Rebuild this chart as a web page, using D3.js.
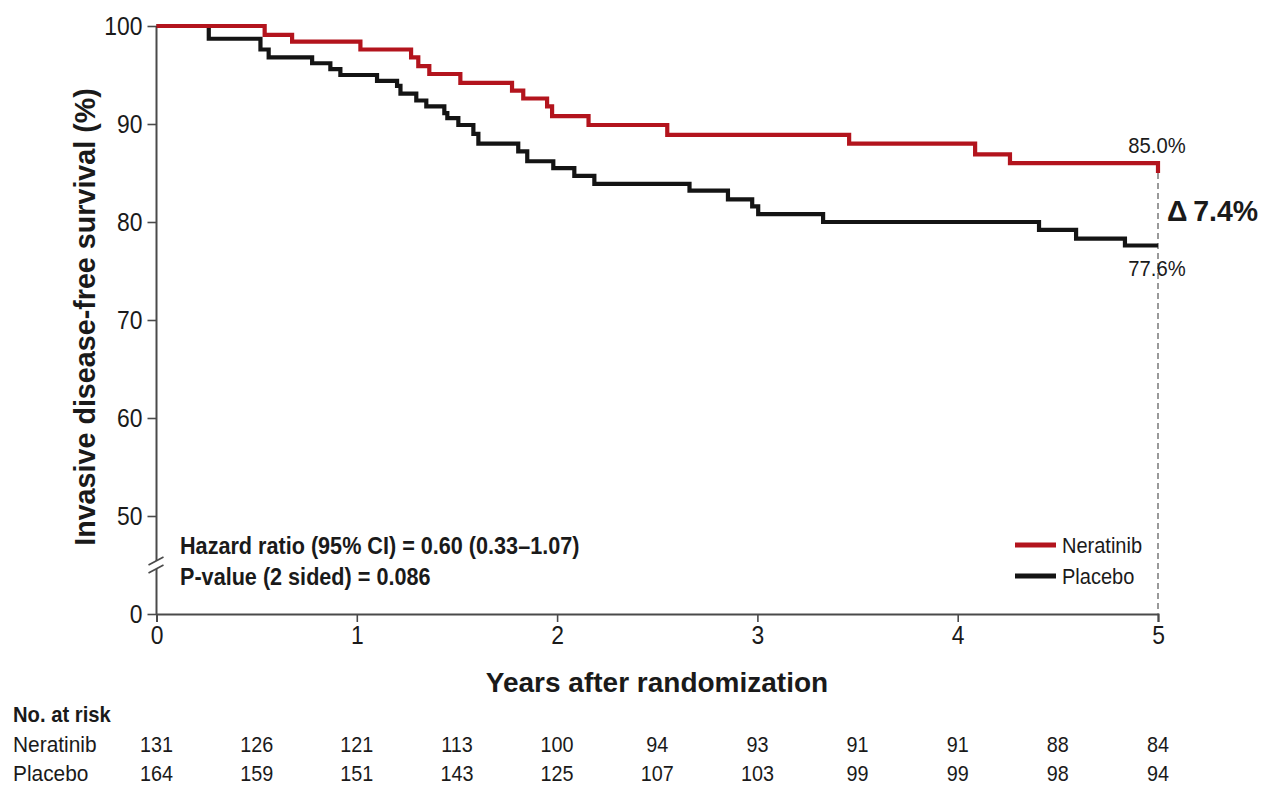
<!DOCTYPE html>
<html>
<head>
<meta charset="utf-8">
<script src="https://cdn.jsdelivr.net/npm/d3@7"></script>
<style>
  html, body { margin: 0; padding: 0; background: #fff; }
  svg { display: block; }
  text { font-family: "Liberation Sans", Arial, sans-serif; fill: #1a1a1a; }
</style>
</head>
<body>
<svg id="chart" width="1261" height="785"></svg>
<script>
// Kaplan–Meier invasive disease-free survival, by arm (years, %)
const neratinibTimes = [0, 0.540, 0.677, 1.018, 1.271, 1.307, 1.362, 1.517, 1.775, 1.831, 1.950, 1.975, 2.157, 2.550, 3.458, 4.087, 4.261, 5.0];
const neratinibSurv  = [100, 99.1, 98.4, 97.6, 96.8, 95.9, 95.1, 94.2, 93.4, 92.6, 91.8, 90.8, 89.9, 88.9, 88.0, 86.9, 86.0, 85.0];

const placeboTimes = [0, 0.261, 0.519, 0.560, 0.777, 0.868, 0.918, 1.101, 1.201, 1.218, 1.297, 1.347, 1.437, 1.452, 1.507, 1.582, 1.607, 1.806, 1.851, 1.981, 2.086, 2.186, 2.661, 2.853, 2.974, 3.004, 3.328, 4.406, 4.591, 4.835, 5.0];
const placeboSurv  = [100, 98.7, 97.6, 96.8, 96.2, 95.6, 95.0, 94.4, 93.9, 93.1, 92.4, 91.8, 91.1, 90.6, 89.9, 89.0, 88.0, 87.2, 86.2, 85.5, 84.7, 83.9, 83.2, 82.3, 81.6, 80.8, 80.0, 79.2, 78.3, 77.6, 77.6];

// Numbers at risk
const riskTimes       = [0, 0.5, 1, 1.5, 2, 2.5, 3, 3.5, 4, 4.5, 5];
const neratinibAtRisk = [131, 126, 121, 113, 100, 94, 93, 91, 91, 88, 84];
const placeboAtRisk   = [164, 159, 151, 143, 125, 107, 103, 99, 99, 98, 94];

const xTicks = [0, 1, 2, 3, 4, 5];
const yTicks = [0, 50, 60, 70, 80, 90, 100];

const seriesNames = ["Neratinib", "Placebo"];
const endLabels = ["85.0%", "77.6%"];
const deltaLabel = "\u0394\u20097.4%";

const RED = "#b3141d", BLACK = "#141414", AXIS = "#4a4a4a";

const svg = d3.select("#chart");

// x: years, y: survival with a broken axis between 0 and 45
const x = d3.scaleLinear().domain([0, 5]).range([156.5, 1158]);
const y = d3.scaleLinear().domain([0, 45, 100]).range([614, 565, 26]);

// Text helper: optional horizontal compression to get condensed lettering
function label(g, str, px, py, opts) {
  const o = Object.assign({size: 22, weight: "normal", anchor: "start", sx: 1}, opts || {});
  return g.append("text")
    .attr("transform", `translate(${px},${py}) scale(${o.sx},1)`)
    .attr("text-anchor", o.anchor)
    .style("font-size", o.size + "px")
    .style("font-weight", o.weight)
    .text(str);
}

// ---- Y axis (with break) ----
const yAxis = d3.axisLeft(y).tickValues(yTicks).tickSize(9).tickPadding(5).tickFormat(d3.format("d"));
const yg = svg.append("g").attr("transform", `translate(${x(0)},0)`).call(yAxis);
yg.select(".domain").remove();
yg.selectAll(".tick line").attr("stroke", AXIS).attr("stroke-width", 1.6);
yg.selectAll(".tick text")
  .style("font-size", "26px").style("fill", "#1a1a1a")
  .attr("dy", "0.34em")
  .each(function() {
    const t = d3.select(this);
    const xx = +t.attr("x");
    t.attr("x", null).attr("transform", `translate(${xx},0) scale(0.88,1)`);
  });

const yb = y(45);
svg.append("line").attr("x1", x(0)).attr("x2", x(0)).attr("y1", y(0)).attr("y2", yb + 4)
  .attr("stroke", AXIS).attr("stroke-width", 2);
svg.append("line").attr("x1", x(0)).attr("x2", x(0)).attr("y1", yb - 4).attr("y2", y(100))
  .attr("stroke", AXIS).attr("stroke-width", 2);
[yb + 4, yb - 4].forEach(cy => {
  svg.append("line")
    .attr("x1", x(0) - 8).attr("y1", cy + 4)
    .attr("x2", x(0) + 7).attr("y2", cy - 4)
    .attr("stroke", AXIS).attr("stroke-width", 1.6);
});

// ---- X axis ----
const xAxis = d3.axisBottom(x).tickValues(xTicks).tickSize(8).tickPadding(4).tickFormat(d3.format("d"));
const xg = svg.append("g").attr("transform", `translate(0,${y(0)})`).call(xAxis);
xg.select(".domain").attr("stroke", AXIS).attr("stroke-width", 2);
xg.selectAll(".tick line").attr("stroke", AXIS).attr("stroke-width", 1.6);
xg.selectAll(".tick text").style("font-size", "26px").style("fill", "#1a1a1a")
  .attr("transform", "scale(0.88,1)");

// Axis titles
label(svg, "Years after randomization", 657, 692, {size: 28, weight: "bold", anchor: "middle"});
svg.append("text")
  .attr("transform", "translate(95,317) rotate(-90)")
  .attr("text-anchor", "middle")
  .style("font-size", "28.7px").style("font-weight", "bold")
  .text("Invasive disease-free survival (%)");

// ---- Reference line at 5 years ----
svg.append("line")
  .attr("x1", x(5)).attr("x2", x(5))
  .attr("y1", y(neratinibSurv[neratinibSurv.length - 1])).attr("y2", y(0))
  .attr("stroke", "#7a7a7a").attr("stroke-width", 1.5).attr("stroke-dasharray", "6,4");

// ---- Survival curves ----
const line = d3.line().x(d => x(d[0])).y(d => y(d[1])).curve(d3.curveStepAfter);
const curves = [
  {name: seriesNames[1], color: BLACK, pts: d3.zip(placeboTimes, placeboSurv)},
  {name: seriesNames[0], color: RED, pts: d3.zip(neratinibTimes, neratinibSurv)}
];
svg.append("g").selectAll("path").data(curves).join("path")
  .attr("d", d => line(d.pts))
  .attr("fill", "none")
  .attr("stroke", d => d.color)
  .attr("stroke-width", 4.2)
  .attr("stroke-linejoin", "miter")
  .attr("stroke-linecap", "butt");

// End-point annotations
label(svg, endLabels[0], 1157, 153, {size: 22, anchor: "middle", sx: 0.92});
label(svg, endLabels[1], 1157, 276, {size: 22, anchor: "middle", sx: 0.92});
label(svg, deltaLabel, 1167, 221, {size: 30, weight: "bold", sx: 0.95});

// ---- Statistics ----
label(svg, "Hazard ratio (95% CI) = 0.60 (0.33\u20131.07)", 180, 554, {size: 23, weight: "bold", sx: 0.94});
label(svg, "P-value (2 sided) = 0.086", 180, 585, {size: 23, weight: "bold", sx: 0.94});

// ---- Legend ----
const legend = svg.append("g");
[[seriesNames[0], RED, 545], [seriesNames[1], BLACK, 576]].forEach(([name, col, ly]) => {
  legend.append("line").attr("x1", 1015).attr("x2", 1056).attr("y1", ly).attr("y2", ly)
    .attr("stroke", col).attr("stroke-width", 5);
  label(legend, name, 1062, ly + 8, {size: 22, sx: 0.91});
});

// ---- Number at risk table ----
const table = svg.append("g");
label(table, "No. at risk", 13, 722, {size: 22, weight: "bold", sx: 0.92});
[[seriesNames[0], neratinibAtRisk, 752], [seriesNames[1], placeboAtRisk, 781]].forEach(([name, vals, ty]) => {
  label(table, name, 13, ty, {size: 22, sx: 0.95});
  table.append("g").selectAll("text").data(riskTimes).join("text")
    .attr("transform", d => `translate(${x(d)},${ty}) scale(0.9,1)`)
    .attr("text-anchor", "middle")
    .style("font-size", "22px")
    .text((d, i) => vals[i]);
});
</script>
</body>
</html>
